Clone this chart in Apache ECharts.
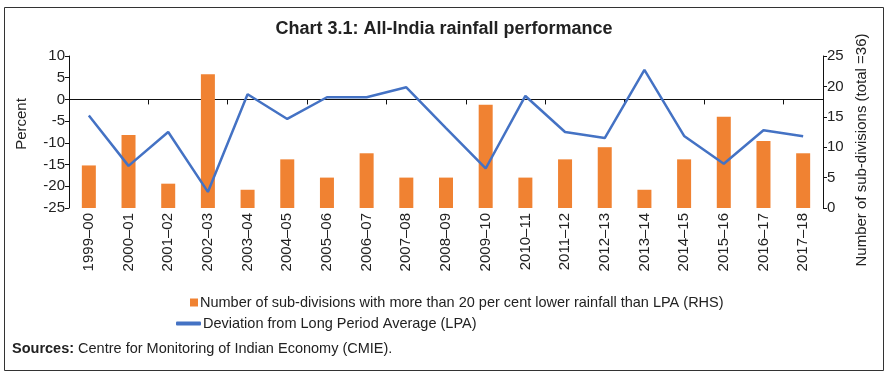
<!DOCTYPE html>
<html>
<head>
<meta charset="utf-8">
<script src="https://cdn.jsdelivr.net/npm/echarts@6/dist/echarts.min.js"></script>
<style>
  html, body { margin: 0; padding: 0; background: #fff; }
  #chart { width: 888px; height: 375px; }
</style>
</head>
<body>
<div id="chart"></div>
<script>
// years on the x axis
var years = ['1999–00', '2000–01', '2001–02', '2002–03', '2003–04', '2004–05', '2005–06',
  '2006–07', '2007–08', '2008–09', '2009–10', '2010–11', '2011–12', '2012–13', '2013–14',
  '2014–15', '2015–16', '2016–17', '2017–18'];
// number of sub-divisions with >20% lower rainfall (RHS)
var subDivisions = [7, 12, 4, 22, 3, 8, 5, 9, 5, 5, 17, 5, 8, 10, 3, 8, 15, 11, 9];
// deviation from LPA, percent (LHS)
var deviation = [-3.7, -15.3, -7.5, -21.3, 1.2, -4.5, 0.5, 0.5, 2.8, -6.6, -15.9, 0.8,
  -7.5, -8.9, 6.8, -8.4, -14.8, -7.1, -8.5];

var barName = 'Number of sub-divisions with more than 20 per cent lower rainfall than LPA (RHS)';
var lineName = 'Deviation from Long Period Average (LPA)';

var myChart = echarts.init(document.getElementById('chart'));
var axisFont = { fontFamily: 'Liberation Sans', fontSize: 15, color: '#222' };
var narrow = { fontFamily: 'Liberation Sans', fontSize: 14.5, color: '#222' };

myChart.setOption({
  animation: false,
  grid: { left: 69, right: 65, top: 56, bottom: 167 },
  title: {
    text: 'Chart 3.1: All-India rainfall performance',
    left: 'center', top: 15,
    textStyle: { fontFamily: 'Liberation Sans', fontWeight: 'bold', fontSize: 18, color: '#222' }
  },
  legend: [
    {
      data: [{ name: barName, icon: 'rect' }],
      left: 185, top: 290, itemWidth: 8, itemHeight: 8, itemGap: 4,
      textStyle: Object.assign({ padding: [0, 0, 0, -3] }, narrow)
    },
    {
      data: [{ name: lineName, icon: 'roundRect' }],
      left: 171, top: 311, itemWidth: 25, itemHeight: 4,
      textStyle: Object.assign({ padding: [0, 0, 0, -3] }, narrow)
    }
  ],
  xAxis: [
    {
      type: 'category', data: years, position: 'bottom',
      axisLine: { show: false, onZero: false }, axisTick: { show: false },
      axisLabel: { rotate: 90, margin: 5, fontFamily: 'Liberation Sans', fontSize: 15, color: '#222' }
    },
    {
      type: 'category', data: years, position: 'top',
      axisLine: { show: true, onZero: true, onZeroAxisIndex: 0, lineStyle: { color: '#111', width: 1 } },
      axisTick: { show: true, inside: true, length: 5, lineStyle: { color: '#111' } },
      axisLabel: { show: false }
    }
  ],
  yAxis: [
    {
      type: 'value', min: -25, max: 10, interval: 5, position: 'left',
      splitLine: { show: false },
      axisLine: { show: true, lineStyle: { color: '#111' } },
      axisTick: { show: true, length: 4, lineStyle: { color: '#111' } },
      axisLabel: Object.assign({ margin: 4 }, axisFont)
    },
    {
      type: 'value', min: 0, max: 25, interval: 5, position: 'right',
      splitLine: { show: false },
      axisLine: { show: true, lineStyle: { color: '#111' } },
      axisTick: { show: true, length: 4, lineStyle: { color: '#111' } },
      axisLabel: Object.assign({ margin: 4 }, axisFont)
    }
  ],
  series: [
    {
      name: barName, type: 'bar', xAxisIndex: 0, yAxisIndex: 1,
      data: subDivisions, barWidth: 14,
      itemStyle: { color: '#F08232' }
    },
    {
      name: lineName, type: 'line', xAxisIndex: 0, yAxisIndex: 0,
      data: deviation, symbol: 'none',
      lineStyle: { color: '#4472C4', width: 2.5 },
      itemStyle: { color: '#4472C4' }
    }
  ],
  graphic: [
    {
      type: 'rect', shape: { x: 4.5, y: 7.5, width: 879, height: 363 },
      style: { fill: 'none', stroke: '#333', lineWidth: 1 }, silent: true
    },
    {
      type: 'text', x: 22, y: 124, rotation: Math.PI / 2,
      style: { text: 'Percent', fontFamily: 'Liberation Sans', fontSize: 15, fill: '#222',
        align: 'center', verticalAlign: 'middle' }
    },
    {
      type: 'text', x: 862, y: 150, rotation: Math.PI / 2,
      style: { text: 'Number of sub-divisions (total =36)', fontFamily: 'Liberation Sans', fontSize: 15,
        fill: '#222', align: 'center', verticalAlign: 'middle' }
    },
    {
      type: 'text', x: 12, y: 349,
      style: {
        text: '{b|Sources:} Centre for Monitoring of Indian Economy (CMIE).',
        verticalAlign: 'middle',
        fontFamily: 'Liberation Sans', fontSize: 14.5, fill: '#222',
        rich: { b: { fontWeight: 'bold', fontFamily: 'Liberation Sans', fontSize: 14.5, fill: '#222' } }
      }
    }
  ]
});
</script>
</body>
</html>
